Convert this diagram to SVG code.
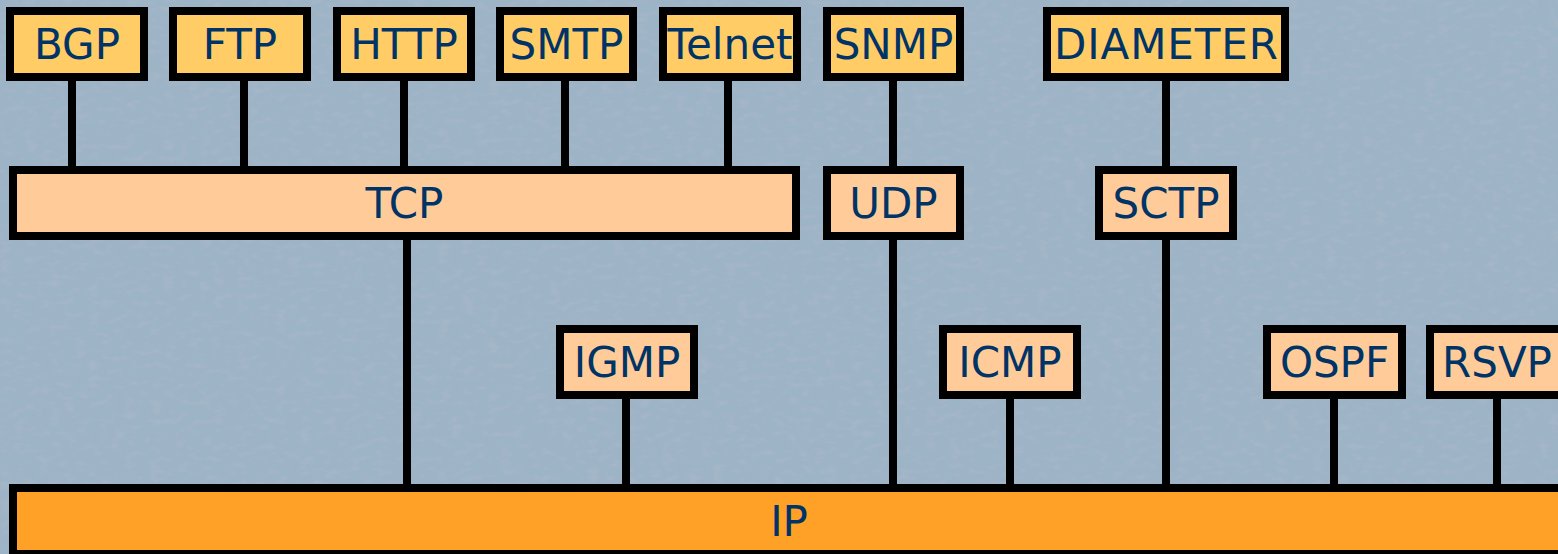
<svg xmlns="http://www.w3.org/2000/svg" width="1558" height="554" viewBox="0 0 1558 554">
  <defs>
    <style>
      .box { stroke: #000; stroke-width: 8; }
      .app { fill: #FFCC66; }
      .mid { fill: #FFCC99; }
      .ip { fill: #FFA126; }
      .lbl { font-family: "DejaVu Sans", Verdana, sans-serif; font-size: 42px; fill: #003366; text-anchor: middle; }
      .conn line { stroke: #000; stroke-width: 8; }
    </style>
    <filter id="tex" x="0" y="0" width="100%" height="100%">
      <feTurbulence type="fractalNoise" baseFrequency="0.08 0.16" numOctaves="2" seed="4" result="n"/>
      <feColorMatrix in="n" type="matrix" values="0 0 0 0 0.42  0 0 0 0 0.50  0 0 0 0 0.59  -3 0 0 0 1.6" />
    </filter>
    <clipPath id="clipTelnet"><rect x="667" y="15" width="126" height="58"/></clipPath>
  </defs>

  <rect x="0" y="0" width="1558" height="554" fill="#9DB3C6"/>
  <rect x="0" y="0" width="1558" height="554" filter="url(#tex)" opacity="0.45"/>

  <g id="connectors" class="conn">
    <line x1="72" y1="77" x2="72" y2="170"/>
    <line x1="244" y1="77" x2="244" y2="170"/>
    <line x1="404" y1="77" x2="404" y2="170"/>
    <line x1="565" y1="77" x2="565" y2="170"/>
    <line x1="728" y1="77" x2="728" y2="170"/>
    <line x1="893" y1="77" x2="893" y2="170"/>
    <line x1="1166" y1="77" x2="1166" y2="170"/>
    <line x1="407" y1="236" x2="407" y2="488"/>
    <line x1="893" y1="236" x2="893" y2="488"/>
    <line x1="1166" y1="236" x2="1166" y2="488"/>
    <line x1="626" y1="395" x2="626" y2="488"/>
    <line x1="1010" y1="395" x2="1010" y2="488"/>
    <line x1="1334" y1="395" x2="1334" y2="488"/>
    <line x1="1497" y1="395" x2="1497" y2="488"/>
  </g>

  <g id="BGP"><rect class="box app" x="10" y="11" width="134" height="66"/><text class="lbl" x="77" y="59">BGP</text></g>
  <g id="FTP"><rect class="box app" x="173" y="11" width="134" height="66"/><text class="lbl" x="240" y="59">FTP</text></g>
  <g id="HTTP"><rect class="box app" x="337" y="11" width="134" height="66"/><text class="lbl" x="404" y="59">HTTP</text></g>
  <g id="SMTP"><rect class="box app" x="500" y="11" width="133" height="66"/><text class="lbl" x="566.5" y="59">SMTP</text></g>
  <g id="Telnet"><rect class="box app" x="663" y="11" width="134" height="66"/><text class="lbl" x="730" y="59" clip-path="url(#clipTelnet)">Telnet</text></g>
  <g id="SNMP"><rect class="box app" x="827" y="11" width="133" height="66"/><text class="lbl" x="893.5" y="59">SNMP</text></g>
  <g id="DIAMETER"><rect class="box app" x="1047" y="11" width="238" height="66"/><text class="lbl" x="1166" y="59" textLength="224" lengthAdjust="spacing">DIAMETER</text></g>

  <g id="TCP"><rect class="box mid" x="13" y="170" width="783" height="66"/><text class="lbl" x="404.5" y="218">TCP</text></g>
  <g id="UDP"><rect class="box mid" x="827" y="170" width="133" height="66"/><text class="lbl" x="893.5" y="218">UDP</text></g>
  <g id="SCTP"><rect class="box mid" x="1099" y="170" width="134" height="66"/><text class="lbl" x="1166" y="218">SCTP</text></g>

  <g id="IGMP"><rect class="box mid" x="560" y="329" width="134" height="66"/><text class="lbl" x="627" y="377">IGMP</text></g>
  <g id="ICMP"><rect class="box mid" x="943" y="329" width="134" height="66"/><text class="lbl" x="1010" y="377">ICMP</text></g>
  <g id="OSPF"><rect class="box mid" x="1267" y="329" width="135" height="66"/><text class="lbl" x="1334.5" y="377">OSPF</text></g>
  <g id="RSVP"><rect class="box mid" x="1430" y="329" width="134" height="66"/><text class="lbl" x="1497" y="377">RSVP</text></g>

  <g id="IP"><rect class="box ip" x="13" y="488" width="1552" height="66"/><text class="lbl" x="789" y="536">IP</text></g>
</svg>
